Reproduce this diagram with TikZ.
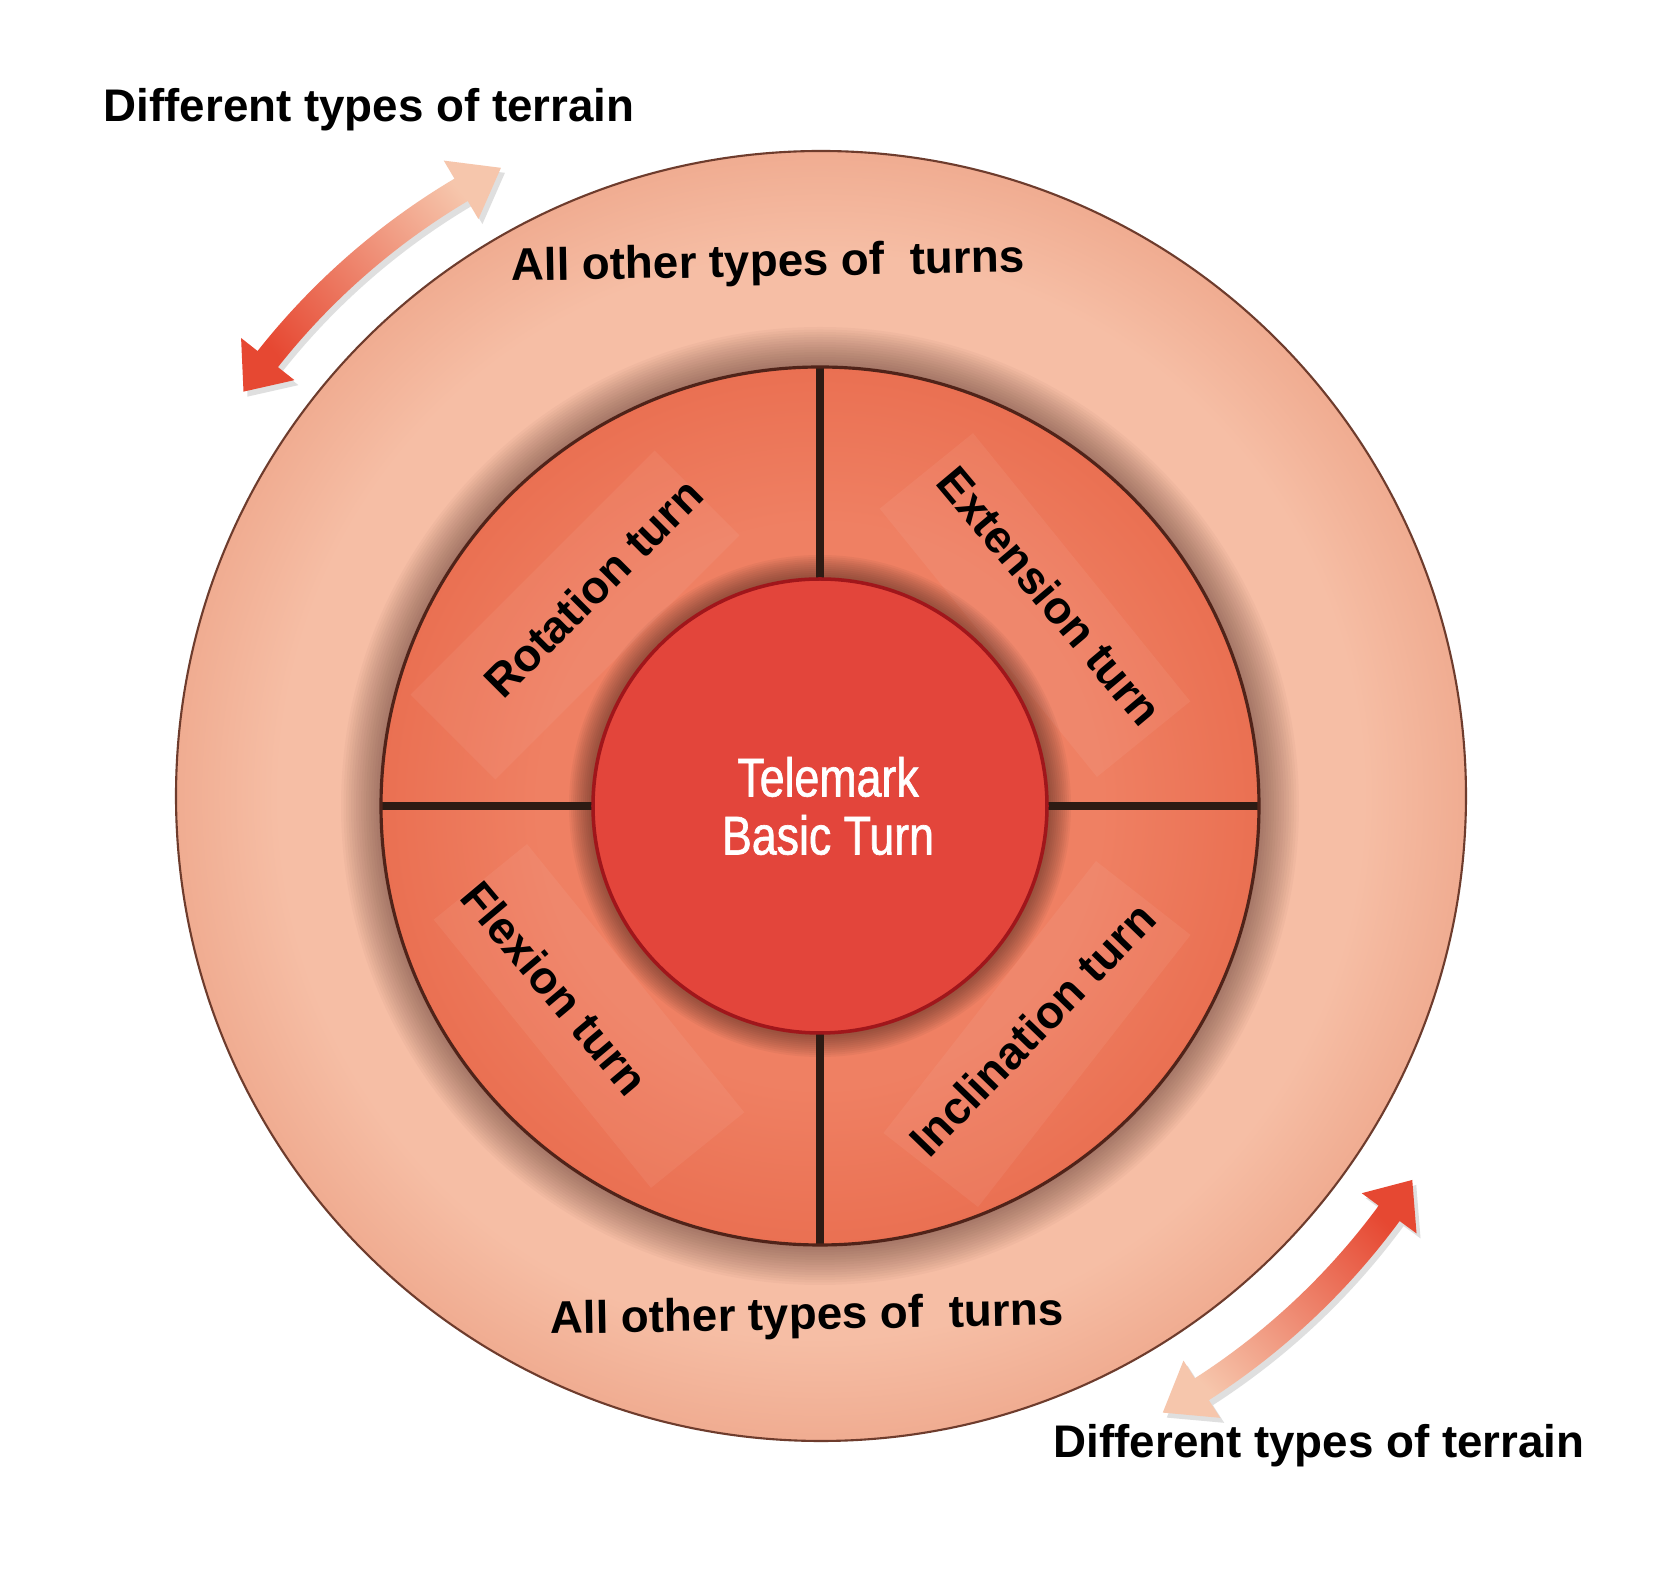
\documentclass[tikz,border=0pt]{standalone}
\usepackage{fontspec}
\setmainfont{Liberation Sans}
\newfontfamily\condfont[FakeStretch=0.82, FakeBold=1.2]{Liberation Sans}
\usepackage{tikz}

\definecolor{ringin}{RGB}{246,190,165}
\definecolor{ringout}{RGB}{240,172,145}
\definecolor{ringline}{RGB}{110,60,45}
\definecolor{segin}{RGB}{239,128,99}
\definecolor{segout}{RGB}{234,112,82}
\definecolor{segline}{RGB}{80,35,25}
\definecolor{groove}{RGB}{45,27,20}
\definecolor{coreface}{RGB}{227,69,59}
\definecolor{coreline}{RGB}{160,22,27}
\definecolor{halo}{RGB}{60,30,25}
\definecolor{arrowred}{RGB}{230,72,50}
\definecolor{arrowmid}{RGB}{238,125,95}
\definecolor{arrowlight}{RGB}{246,198,172}

\pgfdeclareradialshading{ringshade}{\pgfpointorigin}{color(0bp)=(ringin); color(21bp)=(ringin); color(25bp)=(ringout); color(50bp)=(ringout)}
\pgfdeclareradialshading{segshade}{\pgfpointorigin}{color(0bp)=(segin); color(16bp)=(segin); color(25bp)=(segout); color(50bp)=(segout)}

\newcommand{\terrainarrow}[3]{%
  \path[#3] (#1:705) -- ({#1-3.3}:739) -- ({#1-3.3}:718)
    arc[start angle = {#1-3.3}, end angle = {#2+3.7}, radius = 718]
    -- ({#2+3.7}:739) -- (#2:705) -- ({#2+3.7}:671) -- ({#2+3.7}:692)
    arc[start angle = {#2+3.7}, end angle = {#1-3.3}, radius = 692]
    -- ({#1-3.3}:671) -- cycle;}

\begin{document}
\begin{tikzpicture}[x = 0.01cm, y = 0.01cm,
        bigtext/.style = {font = \fontsize{13}{15}\selectfont\bfseries, anchor = base west, inner sep = 0pt},
        turnlabel/.style = {font = \fontsize{13}{15}\selectfont\bfseries},
        glow/.style = {fill = white, fill opacity = 0.06, minimum width = 3.45cm, minimum height = 1.2cm, inner sep = 0pt}]

        \useasboundingbox (0,0) rectangle (1668,1569);
        \fill[white] (0,0) rectangle (1668,1569);

        \coordinate (O) at (821,773);
        \coordinate (C) at (820,763);

        \begin{scope}[shift = {(821,773)}]
        \terrainarrow{145}{117}{fill = gray, opacity = 0.25, shift = {(4,-5)}}
        \terrainarrow{-33}{-61}{fill = gray, opacity = 0.25, shift = {(4,-5)}}
        \terrainarrow{145}{117}{top color = arrowred, middle color = arrowmid, bottom color = arrowlight, shading angle = 130}
        \terrainarrow{-33}{-61}{top color = arrowred, middle color = arrowmid, bottom color = arrowlight, shading angle = -45}
        \end{scope}

        \shade[shading = ringshade] (O) circle (645);
        \draw[ringline, line width = 0.6pt] (O) circle (645);

        \foreach \k in {1,...,16}
        \fill[halo, opacity = 0.03] (C) circle (439+\k*2.5);

        \shade[shading = segshade] (C) circle (439);

        \node[glow, rotate = 45] (rotationglow) at (575,954) {};
        \node[glow, rotate = -51] (extensionglow) at (1035,964) {};
        \node[glow, rotate = -51] (flexionglow) at (589,553) {};
        \node[glow, rotate = 52] (inclinationglow) at (1037,535) {};

        \foreach \a in {0,90,180,270}
        \draw[groove, line width = 2.2pt] (C) -- ++(\a:439);
        \draw[segline, line width = 0.9pt] (C) circle (439);

        \foreach \k in {1,...,12}
        \fill[halo, opacity = 0.05] (C) circle (227+\k*2);

        \fill[coreface] (C) circle (227);
        \draw[coreline, line width = 1pt] (C) circle (227);

        \node[align = center, text = white, font = {\condfont\fontsize{15.5}{16.5}\selectfont}] (core) at (828,763) {Telemark\\Basic Turn};

        \node[turnlabel, rotate = 45] (rotation) at (593,981) {Rotation turn};
        \node[turnlabel, rotate = -50] (extension) at (1050,973) {Extension turn};
        \node[turnlabel, rotate = -50] (flexion) at (555,581) {Flexion turn};
        \node[turnlabel, rotate = 46] (inclination) at (1032,540) {Inclination turn};

        \node[bigtext] (terraintop) at (103,1447) {Different types of terrain};
        \node[bigtext, rotate = 1] (turnstop) at (511,1288) {All other types of~ turns};
        \node[bigtext, rotate = 1] (turnsbot) at (550,235) {All other types of~ turns};
        \node[bigtext] (terrainbot) at (1053,111) {Different types of terrain};

\end{tikzpicture}
\end{document}
